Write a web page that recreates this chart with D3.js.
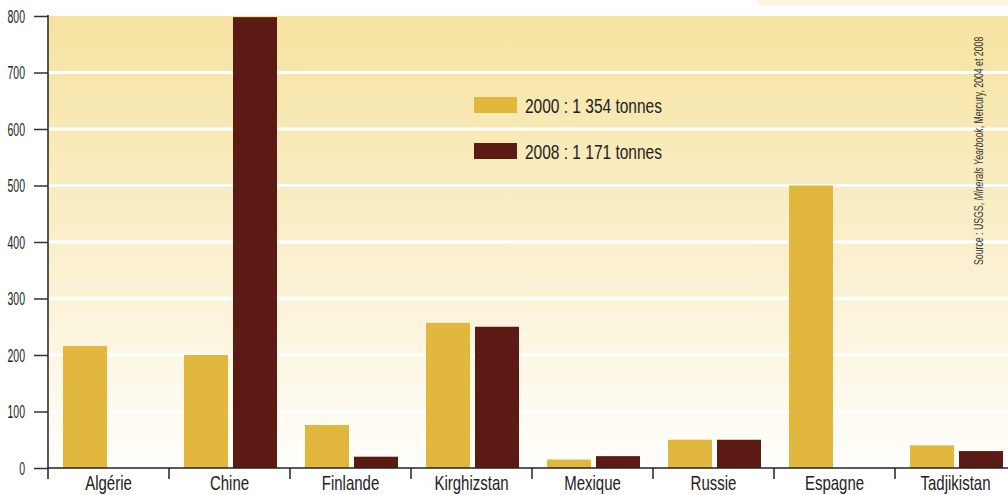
<!DOCTYPE html>
<html><head><meta charset="utf-8">
<script src="https://cdn.jsdelivr.net/npm/d3@7"></script>
<style>
body{margin:0;background:#fff;}
svg{display:block;}
text{font-family:"Liberation Sans",Arial,sans-serif;}
</style></head>
<body>
<svg id="c" width="1008" height="495"></svg>
<script>
const categories = ["Algérie","Chine","Finlande","Kirghizstan","Mexique","Russie","Espagne","Tadjikistan"];
const values2000 = [216, 200, 76, 257, 15, 50, 500, 40];
const values2008 = [0, 798, 20, 250, 21, 50, 0, 30];
const yTicks = [0,100,200,300,400,500,600,700,800];
const legendLabels = ["2000 : 1 354 tonnes","2008 : 1 171 tonnes"];
const colors = ["#e2b73d","#5c1a14"];

const svg = d3.select("#c");
const x0 = 48, x1 = 1016, yTop = 16, yBot = 468;
const x = d3.scaleBand().domain(categories).range([x0, x1]).paddingInner(0).paddingOuter(0);
const y = d3.scaleLinear().domain([0,800]).range([yBot, yTop]);

const defs = svg.append("defs");
const g = defs.append("linearGradient").attr("id","bg").attr("x1",0).attr("y1",0).attr("x2",0).attr("y2",1);
g.append("stop").attr("offset","0%").attr("stop-color","#f6e3a0");
g.append("stop").attr("offset","50%").attr("stop-color","#faefcc");
g.append("stop").attr("offset","100%").attr("stop-color","#fffefb");

// partial title (cut off at top of the picture)
svg.append("text").attr("x",40).attr("y",-5).attr("font-size",24)
  .attr("fill","#555").style("font-family","'Liberation Serif',serif")
  .text("Figure 3 : Production minière de mercure (en tonnes)");
svg.append("rect").attr("x",758).attr("y",0).attr("width",250).attr("height",5).attr("fill","#fdf5df");

// background
svg.append("rect").attr("x",x0).attr("y",yTop).attr("width",1008-x0).attr("height",yBot-yTop).attr("fill","url(#bg)");
// white gridlines
svg.append("g").selectAll("line").data(yTicks.filter(d=>d>0 && d<800)).join("line")
  .attr("x1",x0).attr("x2",1008).attr("y1",d=>y(d)).attr("y2",d=>y(d))
  .attr("stroke","#fff").attr("stroke-width",3);

// bars
const bw = 44, off = [15, 64];
const series = [values2000, values2008];
series.forEach((vals,si)=>{
  svg.append("g").selectAll("rect").data(categories).join("rect")
    .attr("x",(c)=>x(c)+off[si]).attr("width",bw)
    .attr("y",(c,i)=>y(vals[i])).attr("height",(c,i)=>yBot-y(vals[i]))
    .attr("fill",colors[si])
    .attr("display",(c,i)=>vals[i]>0?null:"none");
});

// y axis
const yAxis = d3.axisLeft(y).tickValues(yTicks).tickSize(14).tickSizeOuter(0);
const ya = svg.append("g").attr("transform",`translate(${x0},0)`).call(yAxis);
ya.select(".domain").remove();
ya.selectAll(".tick line").attr("stroke","#333").attr("stroke-width",1.5);
ya.selectAll(".tick text").attr("font-size",17.5).attr("fill","#222").style("font-family",null)
  .attr("x",0).attr("dy","0.35em").attr("transform","translate(-23,0) scale(0.6,1)");
svg.append("line").attr("x1",x0).attr("x2",x0).attr("y1",yTop-1).attr("y2",479).attr("stroke","#222").attr("stroke-width",1.5);

// x axis
const xAxis = d3.axisBottom(x).tickSize(0);
const xa = svg.append("g").attr("transform",`translate(0,${yBot})`).call(xAxis);
xa.select(".domain").remove();
xa.selectAll(".tick text").attr("font-size",20).attr("fill","#222").style("font-family",null)
  .attr("y",22).attr("dy",0).attr("transform","scale(0.75,1)");
svg.append("line").attr("x1",x0).attr("x2",1008).attr("y1",yBot).attr("y2",yBot).attr("stroke","#222").attr("stroke-width",1.5);
svg.append("g").selectAll("line").data(categories.slice(1)).join("line")
  .attr("x1",c=>x(c)).attr("x2",c=>x(c)).attr("y1",yBot).attr("y2",479)
  .attr("stroke","#222").attr("stroke-width",1.5);

// legend
const lg = svg.append("g");
legendLabels.forEach((t,i)=>{
  lg.append("rect").attr("x",474).attr("y",97+i*46).attr("width",43).attr("height",16).attr("fill",colors[i]);
  lg.append("text").attr("x",0).attr("y",0).attr("font-size",20).attr("fill","#222")
    .attr("transform",`translate(525,${113+i*46}) scale(0.775,1)`).text(t);
});

// source
const src = svg.append("text").attr("transform","translate(983,265) rotate(-90) scale(0.7,1)").attr("font-size",12.5).attr("fill","#333");
src.append("tspan").text("Source : USGS, ");
src.append("tspan").attr("font-style","italic").text("Minerals Yearbook");
src.append("tspan").text(", Mercury, 2004 et 2008");
</script>
</body></html>
